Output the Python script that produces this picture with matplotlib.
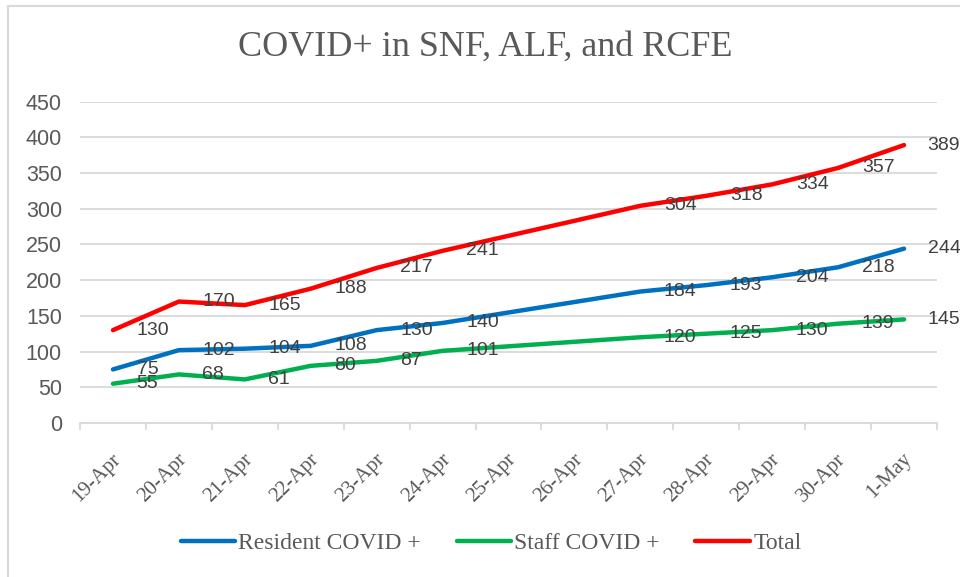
import numpy as np
import matplotlib
matplotlib.use("Agg")
import matplotlib.pyplot as plt
import matplotlib.transforms as mtransforms
from matplotlib.lines import Line2D

# data
dates = ["19-Apr", "20-Apr", "21-Apr", "22-Apr", "23-Apr", "24-Apr", "25-Apr",
         "26-Apr", "27-Apr", "28-Apr", "29-Apr", "30-Apr", "1-May"]
resident = [75, 102, 104, 108, 130, 140, np.nan, np.nan, 184, 193, 204, 218, 244]
staff = [55, 68, 61, 80, 87, 101, np.nan, np.nan, 120, 125, 130, 139, 145]
total = [130, 170, 165, 188, 217, 241, np.nan, np.nan, 304, 318, 334, 357, 389]

grid_col = "#D9D9D9"
txt_col = "#595959"
lbl_col = "#404040"

fig = plt.figure(figsize=(9.6, 5.77), dpi=100)
ax = fig.add_axes([80/960, 1-423/577, (937-80)/960, (423-101.5)/577])

x = np.arange(len(dates))
series = [("Resident COVID +", resident, "#0070C0"),
          ("Staff COVID +", staff, "#00B050"),
          ("Total", total, "#FF0000")]
for name, vals, col in series:
    v = np.array(vals, dtype=float)
    m = ~np.isnan(v)
    ax.plot(x[m], v[m], color=col, lw=3.2, solid_capstyle="round",
            solid_joinstyle="round", label=name, zorder=3)
    for xi, yi in zip(x[m], v[m]):
        ax.annotate(f"{int(yi)}", (xi, yi), xytext=(17, 0), textcoords="offset points",
                    ha="left", va="center", fontsize=14, color=lbl_col,
                    family="Liberation Sans", zorder=4)

ax.set_xlim(-0.5, len(dates) - 0.5)
ax.set_ylim(0, 450)
ax.set_yticks(np.arange(0, 451, 50))
ax.grid(axis="y", color=grid_col, lw=1.3)
ax.set_axisbelow(True)
for s in ["top", "right", "left"]:
    ax.spines[s].set_visible(False)
ax.spines["bottom"].set_color(grid_col)
ax.spines["bottom"].set_linewidth(1.3)

ax.tick_params(axis="y", length=0, pad=13, labelsize=15.5, labelcolor=txt_col)
for t in ax.get_yticklabels():
    t.set_family("Liberation Sans")

ax.set_xticks(x)
ax.set_xticklabels(dates)
ax.set_xticks(np.arange(-0.5, len(dates), 1), minor=True)
ax.tick_params(axis="x", which="major", length=0, pad=24, labelsize=15, labelcolor=txt_col)
ax.tick_params(axis="x", which="minor", length=5, width=1.3, color=grid_col)
shift = mtransforms.ScaledTranslation(5/100, 0, fig.dpi_scale_trans)
for t in ax.get_xticklabels():
    t.set_family("Liberation Serif")
    t.set_rotation(45)
    t.set_ha("right")
    t.set_va("center")
    t.set_rotation_mode("anchor")
    t.set_transform(t.get_transform() + shift)

fig.text(485/960, 1-47/577, "COVID+ in SNF, ALF, and RCFE", ha="center", va="center",
         fontsize=26, color=txt_col, family="Liberation Serif")

leg = fig.legend(loc="center", bbox_to_anchor=(491/960, 1-543/577), ncol=3, frameon=False,
                 prop={"family": "Liberation Serif", "size": 17}, handlelength=2.3,
                 handletextpad=0.15, columnspacing=1.5)
for t in leg.get_texts():
    t.set_color(txt_col)

# chart border (left and top edges visible)
fig.add_artist(Line2D([7.5/960, 7.5/960], [0, 1-6/577], color=grid_col, lw=1.5,
                      transform=fig.transFigure))
fig.add_artist(Line2D([7.5/960, 1], [1-6/577, 1-6/577], color=grid_col, lw=1.5,
                      transform=fig.transFigure))

fig.savefig("out.png", dpi=100)
